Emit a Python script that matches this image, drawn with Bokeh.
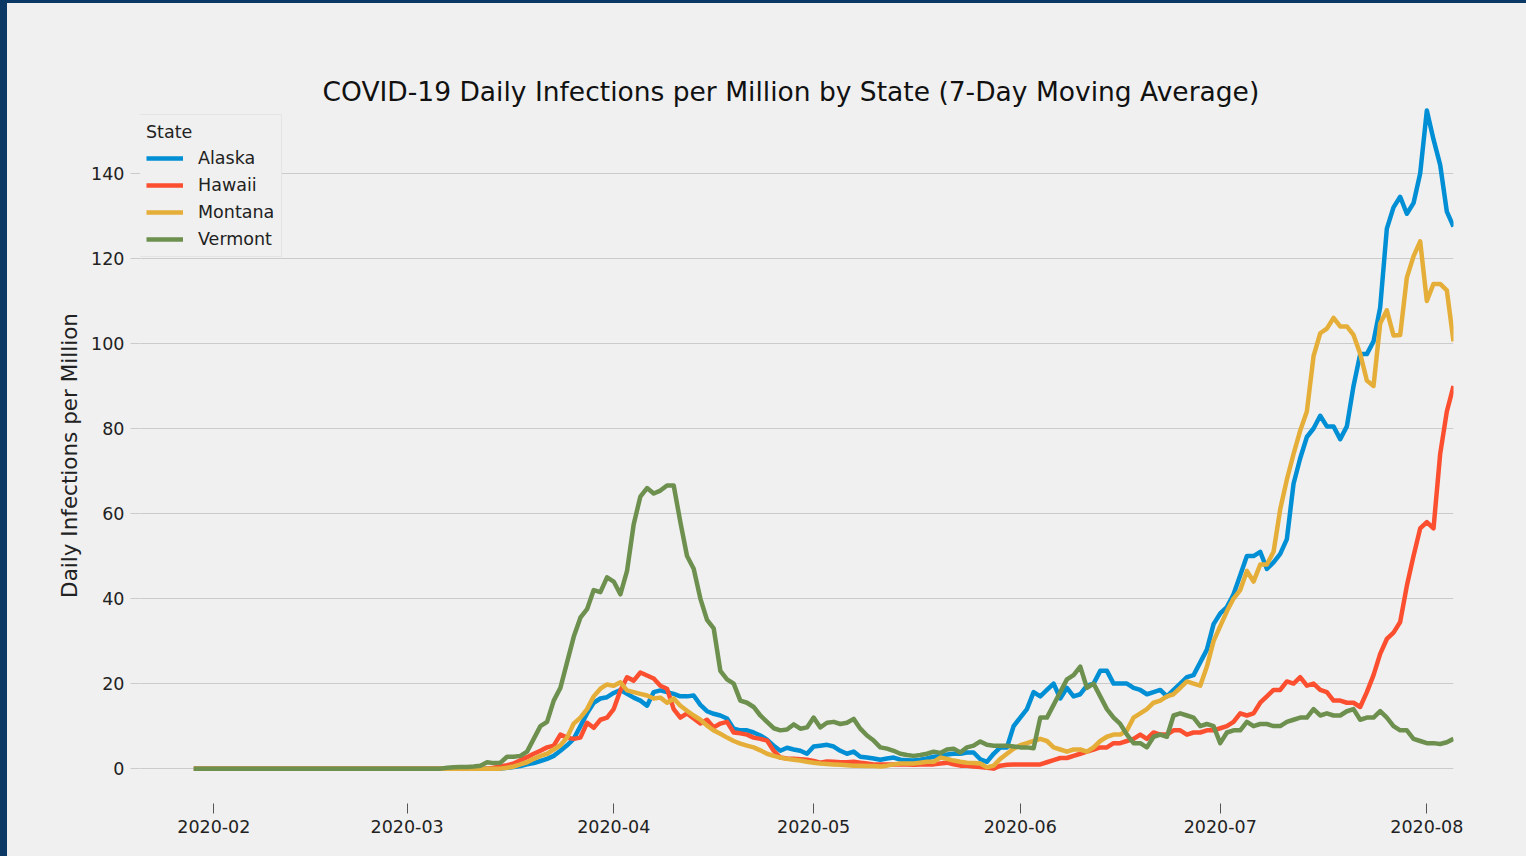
from datetime import datetime, timedelta
from bokeh.plotting import figure
from bokeh.models import (Range1d, Legend, LegendItem, DatetimeTickFormatter,
                          MonthsTicker, ColumnDataSource)
from bokeh.embed import file_html
from bokeh.resources import INLINE

START = datetime(2020, 1, 29)

states = ["Alaska", "Hawaii", "Montana", "Vermont"]
colors = ["#008fd5", "#fc4f30", "#e5ae38", "#6d904f"]

alaska = [0, 0, 0, 0, 0, 0, 0, 0, 0, 0, 0, 0, 0, 0, 0, 0, 0, 0, 0, 0,
          0, 0, 0, 0, 0, 0, 0, 0, 0, 0, 0, 0, 0, 0, 0, 0, 0, 0, 0, 0,
          0, 0, 0, 0, 0, 0, 0,
          0.2, 0.4, 0.6, 1, 1.3, 1.8, 2.3, 3, 4.2, 5.5,
          7, 10, 13, 15.5, 16.5, 16.8, 17.8, 18.5, 17.6, 16.7,
          16, 14.8, 18, 18.4, 18, 17.6, 17, 17, 17.2, 15,
          13.5, 12.9, 12.5, 11.8, 9.4, 9, 9, 8.5, 7.8, 6.8,
          5.4, 4.2, 4.9, 4.5, 4.2, 3.5, 5.2, 5.4, 5.6, 5.2,
          4.2, 3.5, 4, 2.8, 2.6, 2.4, 2.1, 2.4, 2.6, 2.1,
          2, 1.9, 2.1, 2.4, 2.8, 3, 3.3, 3.5, 3.5, 3.8,
          3.8, 2.2, 1.6, 3.5, 5, 5, 10,
          12, 14, 18, 17, 18.5, 20, 16.5, 19, 17, 17.5,
          19.5, 20, 23, 23, 20, 20, 20, 19, 18.5, 17.5,
          18, 18.5, 17, 18.5, 20, 21.5, 22, 25, 28, 34,
          36.5, 38, 41, 45.5, 50, 50, 51, 47, 48.5, 50.5,
          54, 67, 73, 78, 80, 83, 80.5, 80.5, 77.5, 80.5,
          90, 97.5, 97.5, 100.5, 108.5, 127, 132, 134.5, 130.5, 133,
          140, 154.8, 148, 142, 131, 127.5]

hawaii = [0, 0, 0, 0, 0, 0, 0, 0, 0, 0, 0, 0, 0, 0, 0, 0, 0, 0, 0, 0,
          0, 0, 0, 0, 0, 0, 0, 0, 0, 0, 0, 0, 0, 0, 0, 0, 0, 0, 0, 0,
          0, 0, 0, 0, 0,
          0.2, 0.5, 0.8, 1.2, 2, 2.7, 3.5, 4.2, 5, 5.4,
          8, 7.3, 7, 7.3, 10.8, 9.6, 11.5, 12, 14, 18.4,
          21.5, 20.7, 22.6, 21.9, 21.2, 19.5, 18.8, 14, 12, 13,
          11.8, 10.6, 11.5, 9.7, 10.6, 11, 8.5, 8.3, 8, 7.3,
          7, 6.6, 4.2, 2.6, 2.4, 2.3, 2.2, 2.1, 1.8, 1.4,
          1.7, 1.6, 1.5, 1.5, 1.6, 1.4, 1.2, 1, 1, 1,
          1, 1, 1, 0.9, 1, 1, 1, 1.2, 1.4, 1,
          0.7, 0.7, 0.5, 0.4, 0.2, 0, 0.7, 0.9, 1,
          1, 1, 1, 1, 1.5, 2, 2.5, 2.5, 3, 3.5,
          4, 4.5, 5, 5, 6, 6, 6.5, 7, 8, 7,
          8.5, 8, 8, 9, 9, 8, 8.5, 8.5, 9, 9,
          9.5, 10, 11, 13, 12.5, 13, 15.5, 17, 18.5, 18.5,
          20.5, 20, 21.5, 19.5, 20, 18.5, 18, 16, 16, 15.5,
          15.5, 14.5, 18, 22, 27, 30.5, 32, 34.5, 43, 50,
          56.5, 58, 56.5, 74, 84, 90]

montana = [0, 0, 0, 0, 0, 0, 0, 0, 0, 0, 0, 0, 0, 0, 0, 0, 0, 0, 0, 0,
           0, 0, 0, 0, 0, 0, 0, 0, 0, 0, 0, 0, 0, 0, 0, 0, 0, 0, 0, 0,
           0, 0, 0, 0, 0, 0, 0,
           0.2, 0.5, 1, 1.5, 2.3, 3, 3.5, 4.5, 5.5, 7.3,
           10.6, 12, 14, 17, 18.8, 19.8, 19.5, 20.3, 18.4, 18,
           17.6, 17.2, 16.5, 16.7, 15.5, 16.5, 14.8, 13.6, 12.5, 11.5,
           10.1, 9, 8.2, 7.3, 6.5, 5.9, 5.4, 5, 4.3, 3.5,
           3, 2.6, 2.3, 2.1, 1.9, 1.6, 1.4, 1.2, 1.1, 1,
           0.9, 0.8, 0.7, 0.7, 0.6, 0.6, 0.5, 0.7, 1, 1.2,
           1.2, 1.2, 1.4, 1.6, 1.6, 2.6, 2.3, 1.9, 1.6, 1.4,
           1.3, 1.2, 0.3, 0.7, 2.3, 3.5, 4.7,
           5.5, 6, 6.5, 7, 6.5, 5, 4.5, 4, 4.5, 4.5,
           4, 5, 6.5, 7.5, 8, 8, 9, 12, 13, 14,
           15.5, 16, 17, 17.5, 19, 20.5, 20, 19.5, 24, 30,
           33.5, 37, 40, 42, 46.5, 44, 48, 48, 51, 61,
           68, 74, 79.5, 84, 97, 102.4, 103.5, 106, 104, 104,
           102, 97.6, 91.3, 90, 104.7, 107.8, 101.9, 102, 115.5, 120.5,
           124, 110, 114, 114, 112.5, 100.5]

vermont = [0, 0, 0, 0, 0, 0, 0, 0, 0, 0, 0, 0, 0, 0, 0, 0, 0, 0, 0, 0,
           0, 0, 0, 0, 0, 0, 0, 0, 0, 0, 0, 0, 0, 0, 0, 0, 0, 0,
           0.2, 0.3, 0.4, 0.4, 0.5, 0.7, 1.5, 1.3, 1.4, 2.8,
           2.8, 3, 4, 7, 10, 11, 16, 19, 25, 31,
           35.5, 37.5, 42, 41.5, 45, 44, 41, 46.5, 57.5, 64,
           66, 64.7, 65.4, 66.6, 66.6, 58, 50, 47, 40, 35,
           33, 23, 21, 20, 16, 15.5, 14.5, 12.5, 11, 9.5,
           9, 9.2, 10.4, 9.4, 9.7, 12, 9.7, 10.8, 11, 10.5,
           10.8, 11.7, 9.4, 7.8, 6.6, 5, 4.7, 4.2, 3.5, 3.2,
           3, 3.2, 3.5, 4, 3.7, 4.5, 4.7, 3.8, 5, 5.4,
           6.4, 5.6, 5.4, 5.4, 5.4, 5.2,
           5, 5, 4.8, 12, 12, 15, 18, 21, 22, 24,
           19, 20, 17, 14, 12, 10.5, 8, 6, 6, 5,
           7.5, 8, 7.5, 12.5, 13, 12.5, 12, 10, 10.5, 10,
           6, 8.5, 9, 9, 11, 10, 10.5, 10.5, 10, 10,
           11, 11.5, 12, 12, 14, 12.5, 13, 12.5, 12.5, 13.5,
           14, 11.5, 12, 12, 13.5, 12, 10, 9, 9, 7,
           6.5, 6, 6, 5.8, 6.2, 7]

series = [alaska, hawaii, montana, vermont]

TEXT = "#222222"
FONT = "DejaVu Sans"
BG = "#f0f0f0"

p = figure(width=1519, height=853, x_axis_type="datetime",
           output_backend="svg", toolbar_location=None,
           x_range=Range1d(datetime(2020, 1, 21), datetime(2020, 8, 5)),
           y_range=Range1d(-8.2, 155.5),
           min_border_left=133, min_border_right=73,
           min_border_top=104, min_border_bottom=53,
           background_fill_color=BG, border_fill_color=BG,
           outline_line_color=None)

p.title.text = "COVID-19 Daily Infections per Million by State (7-Day Moving Average)"
p.title.align = "left"
p.title.offset = 182
p.title.text_font = FONT
p.title.text_font_size = "26.5px"
p.title.text_font_style = "normal"
p.title.text_color = "#111111"
p.title.standoff = 2

items = []
for name, vals, col in zip(states, series, colors):
    xs = [START + timedelta(days=i) for i in range(len(vals))]
    src = ColumnDataSource(dict(x=xs, y=vals))
    r = p.line("x", "y", source=src, line_color=col, line_width=4.5,
               line_join="round")
    items.append(LegendItem(label=name, renderers=[r]))

# axes
p.xaxis.ticker = MonthsTicker(months=list(range(1, 13)))
p.xaxis.formatter = DatetimeTickFormatter(months="%Y-%m", days="%Y-%m")
p.yaxis.ticker = [0, 20, 40, 60, 80, 100, 120, 140]
for ax in (p.xaxis, p.yaxis):
    ax.axis_line_color = None
    ax.minor_tick_line_color = None
    ax.major_tick_in = 0
    ax.major_tick_out = 10
    ax.major_label_text_font = FONT
    ax.major_label_text_font_size = "17.5px"
    ax.major_label_text_color = TEXT
p.xaxis.major_tick_line_color = "#555555"
p.yaxis.major_tick_line_color = "#cbcbcb"
p.xaxis.major_label_standoff = 6
p.yaxis.major_label_standoff = 6

p.yaxis.axis_label = "Daily Infections per Million"
p.yaxis.axis_label_text_font = FONT
p.yaxis.axis_label_text_font_size = "21.5px"
p.yaxis.axis_label_text_font_style = "normal"
p.yaxis.axis_label_text_color = TEXT
p.yaxis.axis_label_standoff = 6

p.xgrid.grid_line_color = None
p.ygrid.grid_line_color = "#cbcbcb"
p.ygrid.grid_line_width = 1.2

legend = Legend(items=items, location=(-2, 546), title="State",
                title_text_font=FONT, title_text_font_size="17.5px",
                title_text_font_style="normal", title_text_color=TEXT,
                title_standoff=6,
                label_text_font=FONT, label_text_font_size="17.5px",
                label_text_color=TEXT, label_standoff=15,
                glyph_width=37, glyph_height=20, label_height=20,
                spacing=7, padding=7, margin=0,
                border_line_color="#d8d8d8", border_line_width=1,
                background_fill_color=BG, background_fill_alpha=1)
p.add_layout(legend)

html = file_html(p, INLINE, title="COVID-19 Daily Infections per Million")
style = ("<style>html{background:#0b3865 !important;overflow:hidden !important;}"
         "body{margin:3px 0 0 7px !important;padding:0 !important;"
         "height:auto !important;background:#f0f0f0 !important;"
         "overflow:hidden !important;}</style>")
idx = html.lower().find("<!doctype html>")
if idx >= 0:
    cut = idx + len("<!doctype html>")
    html = html[:cut] + "\n" + style + html[cut:]
else:
    html = style + html
open("out.html", "w").write(html)
